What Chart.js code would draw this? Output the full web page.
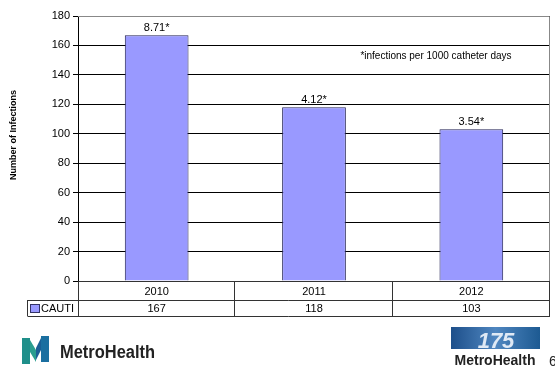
<!DOCTYPE html>
<html>
<head>
    <script src="https://cdn.jsdelivr.net/npm/chart.js@4.4.1/dist/chart.umd.min.js"></script>
    <style>
        body { margin: 0; background: #fff; }
        #wrap { width: 555px; height: 381px; }
    </style>
</head>
<body>
<div id="wrap">
    <canvas id="myChart" width="555" height="381"></canvas>
</div>

<script>
    const years = ['2010', '2011', '2012'];
    const cautiCounts = [167, 118, 103];
    const ratesPer1000 = ['8.71*', '4.12*', '3.54*'];
    const yTicks = [0, 20, 40, 60, 80, 100, 120, 140, 160, 180];

    const FONT = 'Arial, "Liberation Sans", sans-serif';

    // table under the plot, data labels, note and the logos
    const extrasPlugin = {
        id: 'extras',
        afterDraw(chart) {
            const ctx = chart.ctx;
            const area = chart.chartArea;
            const x = chart.scales.x;
            const meta = chart.getDatasetMeta(0);

            ctx.save();
            // gray frame top/right
            ctx.strokeStyle = '#888';
            ctx.lineWidth = 1;
            ctx.beginPath();
            ctx.moveTo(area.left, area.top + 0.5);
            ctx.lineTo(area.right - 0.5, area.top + 0.5);
            ctx.lineTo(area.right - 0.5, area.bottom);
            ctx.stroke();

            // y title
            ctx.save();
            ctx.translate(14, 135);
            ctx.rotate(-Math.PI / 2);
            ctx.fillStyle = '#000';
            ctx.font = 'bold 9px ' + FONT;
            ctx.textAlign = 'center';
            ctx.textBaseline = 'middle';
            ctx.fillText('Number of Infections', 0, 0);
            ctx.restore();

            // value labels
            ctx.fillStyle = '#000';
            ctx.font = '11px ' + FONT;
            ctx.textAlign = 'center';
            ctx.textBaseline = 'alphabetic';
            meta.data.forEach((bar, i) => {
                ctx.fillText(ratesPer1000[i], bar.x, bar.y - 4);
            });

            ctx.font = '10px ' + FONT;
            ctx.fillText('*infections per 1000 catheter days', 436, 59);

            // data table
            const row1 = area.bottom, row2 = area.bottom + 19, row3 = area.bottom + 35;
            const legLeft = 27.5;
            const step = (x.getPixelForValue(1) - x.getPixelForValue(0));
            ctx.strokeStyle = '#333';
            ctx.beginPath();
            ctx.moveTo(area.left, row1 + 0.5); ctx.lineTo(area.right, row1 + 0.5);
            ctx.moveTo(legLeft, row2 + 0.5); ctx.lineTo(area.right, row2 + 0.5);
            ctx.moveTo(legLeft, row3 + 0.5); ctx.lineTo(area.right, row3 + 0.5);
            ctx.moveTo(legLeft, row2); ctx.lineTo(legLeft, row3);
            ctx.moveTo(area.left + 0.5, row1); ctx.lineTo(area.left + 0.5, row3);
            years.forEach((y, i) => {
                const bx = Math.round(x.getPixelForValue(i) + step / 2) - 0.5;
                ctx.moveTo(bx, row1); ctx.lineTo(bx, row3);
            });
            ctx.stroke();

            ctx.fillStyle = '#000';
            ctx.font = '11px ' + FONT;
            ctx.textBaseline = 'middle';
            years.forEach((y, i) => {
                const cx = x.getPixelForValue(i);
                ctx.fillText(y, cx, (row1 + row2) / 2 + 1);
                ctx.fillText(String(cautiCounts[i]), cx, (row2 + row3) / 2 + 1);
            });
            // legend key
            ctx.fillStyle = '#9999FF';
            ctx.fillRect(30.5, 304.5, 9, 8);
            ctx.strokeStyle = '#333366';
            ctx.strokeRect(30.5, 304.5, 9, 8);
            ctx.fillStyle = '#000';
            ctx.textAlign = 'left';
            ctx.fillText('CAUTI', 41, (row2 + row3) / 2 + 1);

            // left logo
            ctx.fillStyle = '#1f8f8a';
            ctx.fillRect(22, 338, 8, 26);
            ctx.fillStyle = '#1b6fa0';
            ctx.fillRect(41, 336, 8, 26);
            ctx.fillStyle = '#2a9d8f';
            ctx.beginPath();
            ctx.moveTo(30, 340); ctx.lineTo(36, 350); ctx.lineTo(36, 362); ctx.lineTo(30, 352);
            ctx.fill();
            ctx.fillStyle = '#1b5f95';
            ctx.beginPath();
            ctx.moveTo(41, 338); ctx.lineTo(36, 348); ctx.lineTo(36, 360); ctx.lineTo(41, 350);
            ctx.fill();
            ctx.fillStyle = '#222';
            ctx.font = 'bold 18px ' + FONT;
            ctx.textBaseline = 'alphabetic';
            ctx.fillText('MetroHealth', 60, 358, 95);

            // right logo
            const g = ctx.createLinearGradient(451, 0, 540, 0);
            g.addColorStop(0, '#1d4f8a');
            g.addColorStop(0.5, '#4f86c0');
            g.addColorStop(1, '#1d5a92');
            ctx.fillStyle = g;
            ctx.fillRect(451, 327, 89, 22);
            ctx.fillStyle = '#dfe9f5';
            ctx.font = 'italic bold 22px ' + FONT;
            ctx.textAlign = 'center';
            ctx.fillText('175', 496, 348);
            ctx.fillStyle = '#222';
            ctx.font = 'bold 14px ' + FONT;
            ctx.fillText('MetroHealth', 495, 365, 89);
            ctx.font = '14px ' + FONT;
            ctx.textAlign = 'left';
            ctx.fillText('6', 549, 366);
            ctx.restore();
        }
    };

    const ctx = document.getElementById('myChart').getContext('2d');
    const myChart = new Chart(ctx, {
        type: 'bar',
        data: {
            labels: years,
            datasets: [{
                label: 'CAUTI',
                data: cautiCounts,
                backgroundColor: '#9999FF',
                borderColor: '#222255',
                borderWidth: 1,
                categoryPercentage: 1,
                barPercentage: 0.405
            }]
        },
        options: {
            responsive: false,
            animation: false,
            layout: { padding: { left: 0, top: 16, right: 5, bottom: 100 } },
            plugins: {
                legend: { display: false },
                tooltip: { enabled: false }
            },
            scales: {
                x: { display: false },
                y: {
                    min: 0,
                    max: 180,
                    afterBuildTicks: scale => { scale.ticks = yTicks.map(v => ({ value: v })); },
                    afterFit: scale => { scale.width = 78; },
                    ticks: { color: '#000', font: { size: 11, family: FONT }, padding: 3 },
                    grid: { color: '#000', tickLength: 5, tickColor: '#000' },
                    border: { color: '#000' }
                }
            }
        },
        plugins: [extrasPlugin]
    });
</script>
</body>
</html>
